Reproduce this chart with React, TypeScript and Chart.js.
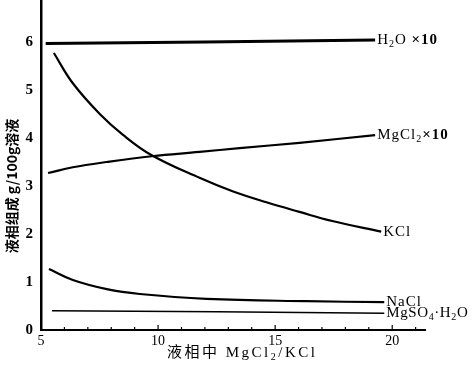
import React, { useEffect, useRef } from "react";
import { Chart, registerables } from "chart.js";

Chart.register(...registerables);

// Data (x = MgCl2/KCl in liquid phase, y = g/100g solution)
const h2oX = [5.2, 12.0, 19.27];
const h2oY = [5.97, 6.0, 6.04];

const mgcl2X = [5.3, 6.36, 7.81, 9.73, 11.77, 13.48, 16.04, 19.27];
const mgcl2Y = [3.27, 3.39, 3.5, 3.62, 3.71, 3.79, 3.9, 4.06];

const kclX = [5.55, 6.36, 7.51, 8.49, 9.73, 11.77, 13.18, 14.63, 16.04, 17.44, 19.53];
const kclY = [5.77, 5.14, 4.5, 4.07, 3.64, 3.17, 2.89, 2.66, 2.46, 2.27, 2.05];

const naclX = [5.34, 6.36, 7.81, 9.22, 12.07, 16.33, 19.66];
const naclY = [1.27, 1.04, 0.85, 0.75, 0.65, 0.6, 0.58];

const mgso4X = [5.47, 12.5, 19.66];
const mgso4Y = [0.4, 0.38, 0.35];

type Seg = { t: string; sub?: boolean; bold?: boolean };
const seriesLabels: Seg[][] = [
  [{ t: "H" }, { t: "2", sub: true }, { t: "O " }, { t: "×10", bold: true }],
  [{ t: "MgCl" }, { t: "2", sub: true }, { t: "×10", bold: true }],
  [{ t: "KCl" }],
  [{ t: "NaCl" }],
  [{ t: "MgSO" }, { t: "4", sub: true }, { t: "·H" }, { t: "2", sub: true }, { t: "O" }],
];
const labelSpacing = [1, 1, 1, 1, 0.6];
const lineWidths = [3, 2.2, 2.2, 2.2, 1.4];

const yTitle = "液相组成 g/100g溶液";
const xTitleSegs: Seg[] = [{ t: "液相中 MgCl" }, { t: "2", sub: true }, { t: "/KCl" }];

const SERIF = "'Liberation Serif', 'DejaVu Serif', 'Noto Sans CJK SC', serif";

function drawRich(
  ctx: CanvasRenderingContext2D,
  segs: Seg[],
  x: number,
  y: number,
  size: number,
  spacing: number
) {
  let cx = x;
  ctx.textBaseline = "middle";
  ctx.textAlign = "left";
  (ctx as any).letterSpacing = `${spacing}px`;
  for (const s of segs) {
    const fs = s.sub ? Math.round(size * 0.68) : size;
    ctx.font = `${s.bold ? "bold " : ""}${fs}px ${SERIF}`;
    const dy = s.sub ? size * 0.28 : 0;
    ctx.fillText(s.t, cx, y + dy);
    cx += ctx.measureText(s.t).width;
  }
  (ctx as any).letterSpacing = "0px";
}

const pairs = (xs: number[], ys: number[]) => xs.map((x, i) => ({ x, y: ys[i] }));

const annotPlugin = {
  id: "annot",
  afterDraw(chart: any) {
    const ctx: CanvasRenderingContext2D = chart.ctx;
    const xs = chart.scales.x;
    const ys = chart.scales.y;
    ctx.save();
    ctx.fillStyle = "#000";
    ctx.strokeStyle = "#000";
    // inward ticks on x axis
    ctx.lineWidth = 1.2;
    xs.ticks.forEach((t: any) => {
      const px = xs.getPixelForValue(t.value);
      const major = t.value % 5 === 0;
      ctx.beginPath();
      ctx.moveTo(px, ys.bottom);
      ctx.lineTo(px, ys.bottom - (major ? 5 : 3));
      ctx.stroke();
    });
    // series end labels
    chart.data.datasets.forEach((ds: any, i: number) => {
      const last = ds.data[ds.data.length - 1];
      const px = xs.getPixelForValue(last.x) + 2;
      const py = ys.getPixelForValue(last.y);
      drawRich(ctx, seriesLabels[i], px, py, 15, labelSpacing[i]);
    });
    // y title
    ctx.save();
    ctx.translate(12, 186);
    ctx.rotate(-Math.PI / 2);
    ctx.font = `bold 14px 'Noto Sans CJK SC', ${SERIF}`;
    ctx.textAlign = "center";
    ctx.textBaseline = "middle";
    ctx.fillText(yTitle, 0, 0);
    ctx.restore();
    // x title
    drawRich(ctx, xTitleSegs, 167, 353, 15, 2.5);
    ctx.restore();
  },
};

export default function App() {
  const ref = useRef<HTMLCanvasElement>(null);
  useEffect(() => {
    document.body.style.margin = "0";
    const mk = (xs: number[], ys: number[], w: number) => ({
      data: pairs(xs, ys),
      borderColor: "#000",
      backgroundColor: "#000",
      borderWidth: w,
      pointRadius: 0,
      tension: 0.4,
      fill: false,
    });
    const chart = new Chart(ref.current!, {
      type: "line",
      data: {
        datasets: [
          mk(h2oX, h2oY, lineWidths[0]),
          mk(mgcl2X, mgcl2Y, lineWidths[1]),
          mk(kclX, kclY, lineWidths[2]),
          mk(naclX, naclY, lineWidths[3]),
          mk(mgso4X, mgso4Y, lineWidths[4]),
        ],
      },
      options: {
        responsive: false,
        animation: false,
        layout: { padding: { top: 0, right: 49, left: 0, bottom: 0 } },
        plugins: { legend: { display: false }, tooltip: { enabled: false } },
        scales: {
          x: {
            type: "linear",
            min: 5,
            max: 21.4,
            afterFit: (s: any) => {
              s.height = 37;
              s.paddingLeft = 0;
              s.paddingRight = 0;
            },
            grid: { display: false, drawTicks: false },
            border: { display: true, color: "#000", width: 2 },
            ticks: {
              stepSize: 1,
              includeBounds: false,
              autoSkip: false,
              maxRotation: 0,
              padding: 3,
              color: "#000",
              font: { family: SERIF, size: 14 },
              callback: (v: any) => (Number(v) % 5 === 0 ? String(v) : ""),
            },
          },
          y: {
            type: "linear",
            min: 0,
            max: 6.875,
            afterFit: (s: any) => {
              s.width = 41;
              s.paddingTop = 0;
              s.paddingBottom = 0;
            },
            grid: { display: false, drawTicks: false },
            border: { display: true, color: "#000", width: 2.5 },
            ticks: {
              stepSize: 1,
              includeBounds: false,
              padding: 8,
              color: "#000",
              font: { family: SERIF, size: 15, weight: "bold" },
            },
          },
        },
      },
      plugins: [annotPlugin],
    });
    return () => chart.destroy();
  }, []);
  return (
    <div style={{ width: 474, height: 367 }}>
      <canvas ref={ref} width={474} height={367} />
    </div>
  );
}
